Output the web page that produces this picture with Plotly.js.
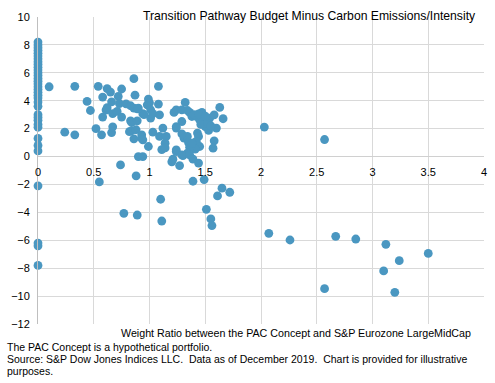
<!DOCTYPE html>
<html>
<head>
<meta charset="utf-8">
<script src="https://cdn.plot.ly/plotly-3.0.1.min.js"></script>
<style>
html,body{margin:0;padding:0;background:#fff;}
#chart{width:495px;height:383px;}
</style>
</head>
<body>
<div id="chart"></div>
<script>
// Weight ratio (x) and budget minus emissions/intensity (y)
const zeroColumnY = [8.2, 8.0, 7.8, 7.6, 7.4, 7.2, 7.0, 6.8, 6.6, 6.4, 6.2, 6.0, 5.8, 5.6, 5.4, 5.2, 5.0, 4.8, 4.6, 4.4, 4.2, 3.9, 3.6, 3.0, 2.8, 2.6, 2.3, 2.1, 1.3, 0.8, 0.4, -2.1, -6.2, -6.4, -7.8];

const weightRatio = [
  0.10, 0.24, 0.33, 0.33, 0.44, 0.47, 0.52, 0.54, 0.57, 0.55,
  0.58, 0.58, 0.61, 0.62, 0.62, 0.65, 0.66, 0.66, 0.67, 0.67,
  0.71, 0.72, 0.73, 0.74, 0.75, 0.75, 0.77, 0.79, 0.82, 0.83,
  0.83, 0.84, 0.84, 0.86, 0.87, 0.86, 0.86, 0.88, 0.89, 0.89,
  0.89, 0.90, 0.88, 0.93, 0.93, 0.94, 0.94, 0.95, 0.90, 0.94,
  0.98, 0.99, 1.00, 0.99, 1.01, 1.03, 1.01, 1.03, 1.08, 1.08,
  1.09, 1.12, 1.09, 1.11, 1.14, 1.15, 1.14, 1.10, 1.11, 1.20,
  1.21, 1.27, 1.22, 1.24, 1.29, 1.32, 1.34, 1.36, 1.38, 1.42,
  1.45, 1.47, 1.48, 1.51, 1.50, 1.54, 1.58, 1.63, 1.66, 1.60,
  1.53, 1.58, 1.57, 1.43, 1.44, 1.42, 1.45, 1.41, 1.36, 1.34,
  1.30, 1.24, 1.24, 1.31, 1.34, 1.29, 1.29, 1.24, 1.24, 1.35,
  1.38, 1.29, 1.36, 1.39, 1.44, 1.39, 1.49, 1.61, 1.65, 1.72,
  1.51, 1.55, 1.56, 2.03, 2.57, 2.07, 2.26, 2.67, 2.85, 3.12,
  3.50, 3.24, 3.10, 2.57, 3.20, 1.46, 1.52, 1.55, 1.40, 1.44,
  1.50
];
const budgetGap = [
  5.00, 1.75, 1.56, 5.03, 3.95, 3.30, 2.00, 5.03, 1.56, -1.82,
  4.26, 2.83, 3.33, 3.50, 4.87, 4.62, 3.92, 1.72, 2.13, 3.08,
  3.23, 4.31, 3.80, -0.60, 4.84, 2.83, -4.07, 3.78, 1.78, 2.56,
  3.64, 1.85, 2.44, 5.58, 4.40, 3.47, 1.27, -1.38, 2.56, 3.42,
  -4.19, 0.00, 1.92, 1.56, 1.32, 0.00, 3.07, 3.00, 3.47, 1.20,
  3.71, 4.12, 3.85, 0.72, 2.76, 1.75, 3.35, 3.07, 5.03, 3.76,
  2.99, 2.04, 1.44, 0.50, 0.96, 1.44, 0.62, -3.06, -4.62, -0.38,
  -0.19, -0.65, 3.16, 3.35, 3.35, 3.88, 3.30, 3.16, 2.87, 2.87,
  2.63, 3.16, 2.76, 2.51, 2.15, 2.76, 2.99, 3.52, 2.71, 2.04,
  1.87, 1.13, 0.60, 1.68, 1.44, 1.08, 0.72, 0.53, 0.67, 0.24,
  0.07, 0.48, 0.36, 1.32, 1.44, 1.63, 2.51, 2.15, 2.04, 1.00,
  0.96, 0.12, 0.12, -0.19, -0.47, -1.77, -1.65, -2.82, -2.27, -2.56,
  -3.78, -4.47, -4.95, 2.11, 1.22, -5.50, -5.98, -5.72, -5.91, -6.29,
  -6.94, -7.46, -8.20, -9.47, -9.73, 2.30, 2.40, 2.20, 3.00, 3.05,
  2.90
];

const xTickVals = [0, 0.5, 1, 1.5, 2, 2.5, 3, 3.5, 4];
const xTickText = ['0', '0.5', '1', '1.5', '2', '2.5', '3', '3.5', '4'];
const yTickVals = [-12, -10, -8, -6, -4, -2, 0, 2, 4, 6, 8, 10];

const chartTitle = 'Transition Pathway Budget Minus Carbon Emissions/Intensity';
const xTitle = 'Weight Ratio between the PAC Concept and S&P Eurozone LargeMidCap';
const footNote1 = 'The PAC Concept is a hypothetical portfolio.';
const footNote2 = 'Source: S&P Dow Jones Indices LLC.\u00a0 Data as of December 2019.\u00a0 Chart is provided for illustrative';
const footNote3 = 'purposes.';

const allX = zeroColumnY.map(() => 0).concat(weightRatio);
const allY = zeroColumnY.concat(budgetGap);

const FONT = 'Liberation Sans, Arial, sans-serif';

const trace = {
  type: 'scatter',
  mode: 'markers',
  x: allX,
  y: allY,
  marker: {color: '#4a97c1', size: 8.8, line: {width: 0}},
  hoverinfo: 'x+y',
  cliponaxis: false
};

const layout = {
  width: 495,
  height: 383,
  margin: {l: 38, r: 11, t: 17, b: 59},
  paper_bgcolor: '#ffffff',
  plot_bgcolor: '#ffffff',
  showlegend: false,
  font: {family: FONT, size: 11, color: '#000000'},
  xaxis: {
    range: [0, 4],
    tickvals: xTickVals,
    ticktext: xTickText,
    showgrid: true,
    gridcolor: '#d9d9d9',
    gridwidth: 1,
    zeroline: false,
    showline: false,
    ticks: '',
    ticklabelstandoff: 7,
    anchor: 'free',
    position: 12 / 22,
    tickfont: {family: FONT, size: 11, color: '#000000'},
    fixedrange: true
  },
  yaxis: {
    range: [-12, 10],
    tickvals: yTickVals,
    showgrid: true,
    gridcolor: '#d9d9d9',
    gridwidth: 1,
    zeroline: true,
    zerolinecolor: '#d0d0d0',
    zerolinewidth: 1,
    showline: true,
    linecolor: '#bfbfbf',
    linewidth: 1,
    ticks: '',
    ticklabelstandoff: 5,
    tickfont: {family: FONT, size: 11, color: '#000000'},
    fixedrange: true
  },
  annotations: [
    {text: chartTitle, xref: 'paper', yref: 'paper', x: 1.0, y: 1.0, xanchor: 'right', yanchor: 'middle',
     xshift: -6, yshift: 1, showarrow: false, font: {family: FONT, size: 12.2, color: '#000000'}},
    {text: xTitle, xref: 'paper', yref: 'paper', x: 1.0, y: 0, xanchor: 'right', yanchor: 'top',
     xshift: -11, yshift: -1, showarrow: false, font: {family: FONT, size: 10.7, color: '#000000'}},
    {text: footNote1, xref: 'paper', yref: 'paper', x: 0, y: 0, xanchor: 'left', yanchor: 'top',
     xshift: -33, yshift: -15, showarrow: false, font: {family: FONT, size: 10.5, color: '#000000'}},
    {text: footNote2, xref: 'paper', yref: 'paper', x: 0, y: 0, xanchor: 'left', yanchor: 'top',
     xshift: -33, yshift: -27, showarrow: false, font: {family: FONT, size: 10.5, color: '#000000'}},
    {text: footNote3, xref: 'paper', yref: 'paper', x: 0, y: 0, xanchor: 'left', yanchor: 'top',
     xshift: -33, yshift: -39, showarrow: false, font: {family: FONT, size: 10.5, color: '#000000'}}
  ]
};

Plotly.newPlot('chart', [trace], layout, {displayModeBar: false, staticPlot: true});
</script>
</body>
</html>
